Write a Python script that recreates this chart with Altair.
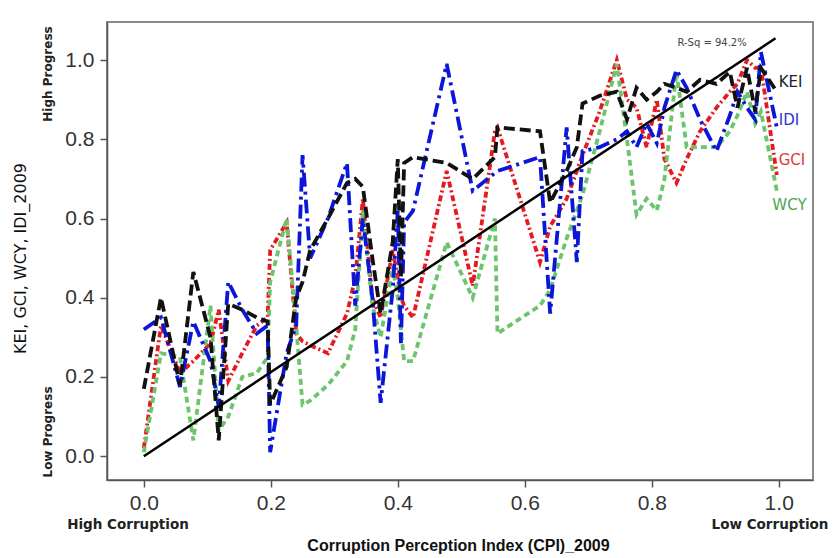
import altair as alt
import pandas as pd

# CPI 2009 (normalised) shared by all four progress indices
cpi = [0.000, 0.027, 0.057, 0.078, 0.105, 0.118, 0.133, 0.155, 0.178, 0.195,
       0.199, 0.225, 0.240, 0.250, 0.262, 0.290, 0.320, 0.333, 0.345, 0.360,
       0.373, 0.392, 0.400, 0.405, 0.410, 0.424, 0.477, 0.518, 0.553, 0.557,
       0.624, 0.640, 0.666, 0.682, 0.691, 0.718, 0.745, 0.761, 0.776, 0.792,
       0.808, 0.820, 0.839, 0.855, 0.876, 0.902, 0.923, 0.935, 0.950, 0.963,
       0.972, 0.997]

kei = [0.17, 0.40, 0.18, 0.465, 0.30, 0.04, 0.385, 0.37, 0.35, 0.34,
       0.13, 0.225, 0.40, 0.44, 0.52, 0.60, 0.69, 0.70, 0.68, 0.50,
       0.36, 0.54, 0.75, 0.45, 0.74, 0.755, 0.74, 0.70, 0.755, 0.83,
       0.82, 0.64, 0.72, 0.78, 0.89, 0.91, 0.92, 0.85, 0.93, 0.90,
       0.92, 0.94, 0.93, 0.92, 0.95, 0.94, 0.97, 0.88, 0.98, 0.87,
       0.98, 0.92]

idi = [0.32, 0.35, 0.175, 0.34, 0.24, 0.125, 0.44, 0.37, 0.31, 0.33,
       0.01, 0.26, 0.33, 0.76, 0.50, 0.60, 0.74, 0.38, 0.60, 0.40,
       0.135, 0.42, 0.62, 0.285, 0.59, 0.62, 0.99, 0.67, 0.715, 0.72,
       0.755, 0.36, 0.83, 0.49, 0.77, 0.78, 0.80, 0.82, 0.78, 0.84,
       0.79, 0.88, 0.975, 0.93, 0.85, 0.77, 0.86, 0.92, 0.88, 0.85,
       1.02, 0.83]

gci = [0.02, 0.33, 0.21, 0.24, 0.285, 0.37, 0.19, 0.26, 0.33, 0.35,
       0.52, 0.59, 0.31, 0.29, 0.28, 0.26, 0.36, 0.45, 0.65, 0.40,
       0.35, 0.52, 0.45, 0.40, 0.38, 0.35, 0.72, 0.43, 0.82, 0.83,
       0.49, 0.58, 0.65, 0.72, 0.76, 0.87, 1.00, 0.90, 0.88, 0.78,
       0.90, 0.75, 0.69, 0.75, 0.82, 0.88, 0.92, 0.94, 1.00, 0.98,
       0.98, 0.71]

wcy = [0.01, 0.26, 0.25, 0.04, 0.38, 0.065, 0.10, 0.20, 0.21, 0.25,
       0.44, 0.60, 0.33, 0.13, 0.14, 0.18, 0.24, 0.32, 0.62, 0.38,
       0.30, 0.48, 0.40, 0.32, 0.24, 0.24, 0.54, 0.40, 0.60, 0.31,
       0.38, 0.42, 0.55, 0.62, 0.66, 0.82, 0.99, 0.80, 0.61, 0.65,
       0.62, 0.70, 0.97, 0.78, 0.78, 0.78, 0.82, 0.86, 0.92, 0.84,
       0.87, 0.67]

series_names = ["KEI", "IDI", "GCI", "WCY"]
line_colors = ["#111111", "#0b16d9", "#e5191f", "#6cc46c"]
label_colors = ["#222222", "#2b35d0", "#e03a3a", "#4fa34f"]
dash_styles = [[11, 5], [14, 5, 3, 5], [6, 3, 2, 3], [6, 4]]

# end-of-line series labels (data units)
label_x = [1.0, 1.0, 1.0, 0.99]
label_y = [0.944, 0.848, 0.747, 0.634]

# fitted trend line
fit_x = [0.0, 0.995]
fit_y = [0.0, 1.055]
r_sq_text = "R-Sq = 94.2%"
r_sq_pos = [0.895, 1.043]

values = {"KEI": kei, "IDI": idi, "GCI": gci, "WCY": wcy}
rows = []
for i, x in enumerate(cpi):
    for name in series_names:
        rows.append({"idx": i, "cpi": x, "series": name, "value": values[name][i]})
df = pd.DataFrame(rows)

x_scale = alt.Scale(domain=[-0.058, 1.054], nice=False, zero=False)
y_scale = alt.Scale(domain=[-0.06, 1.096], nice=False, zero=False)

tick_font = "Liberation Sans Narrow, Liberation Sans, Arial"

x_axis = alt.Axis(
    values=[0, 0.2, 0.4, 0.6, 0.8, 1.0], format=".1f", grid=False,
    tickSize=7, tickWidth=1.5, tickColor="#555555",
    domainColor="#555555", domainWidth=1.5,
    labelFont=tick_font, labelFontSize=21, labelColor="#333333", labelPadding=5,
    title="Corruption Perception Index (CPI)_2009",
    titleFont="Liberation Sans, Arial", titleFontSize=16, titleFontWeight="bold",
    titleColor="#111111", titleX=351, titleY=65, titleBaseline="middle", titleAlign="center",
)
y_axis = alt.Axis(
    values=[0, 0.2, 0.4, 0.6, 0.8, 1.0], format=".1f", grid=False,
    tickSize=7, tickWidth=1.5, tickColor="#555555",
    domainColor="#555555", domainWidth=1.5,
    labelFont=tick_font, labelFontSize=21, labelColor="#333333", labelPadding=6,
    title="KEI, GCI, WCY, IDI_2009",
    titleFont="DejaVu Sans, Verdana", titleFontSize=16, titleFontWeight="normal",
    titleColor="#111111", titleX=-87, titleY=236, titleAngle=270,
    titleBaseline="middle", titleAlign="center",
)

layers = []
draw_order = ["GCI", "WCY", "IDI", "KEI"]
for name in draw_order:
    k = series_names.index(name)
    layers.append(
        alt.Chart(df).transform_filter(alt.datum.series == name)
        .mark_line(color=line_colors[k], strokeWidth=3.8, strokeDash=dash_styles[k],
                   strokeCap="butt", strokeJoin="miter")
        .encode(
            x=alt.X("cpi:Q", scale=x_scale, axis=x_axis),
            y=alt.Y("value:Q", scale=y_scale, axis=y_axis),
            order=alt.Order("idx:Q"),
        )
    )

fit_df = pd.DataFrame({"cpi": fit_x, "value": fit_y})
fit_line = alt.Chart(fit_df).mark_line(color="#000000", strokeWidth=2.5).encode(
    x=alt.X("cpi:Q", scale=x_scale, axis=x_axis),
    y=alt.Y("value:Q", scale=y_scale, axis=y_axis),
)

rsq = alt.Chart(pd.DataFrame({"cpi": [r_sq_pos[0]], "value": [r_sq_pos[1]], "t": [r_sq_text]})).mark_text(
    font="DejaVu Sans, Verdana", fontSize=10, color="#444444", align="center", baseline="middle"
).encode(
    x=alt.X("cpi:Q", scale=x_scale, axis=x_axis),
    y=alt.Y("value:Q", scale=y_scale, axis=y_axis),
    text="t:N",
)

lab_df = pd.DataFrame({"series": series_names, "cpi": label_x, "value": label_y})
series_labels = alt.Chart(lab_df).mark_text(
    font="DejaVu Sans, Verdana", fontSize=15, align="left", baseline="middle"
).encode(
    x=alt.X("cpi:Q", scale=x_scale, axis=x_axis),
    y=alt.Y("value:Q", scale=y_scale, axis=y_axis),
    text="series:N",
    color=alt.Color("series:N", scale=alt.Scale(domain=series_names, range=label_colors), legend=None),
)


def side_note(text, px, py, angle=0, size=12.5):
    return alt.Chart(pd.DataFrame({"t": [text]})).mark_text(
        font="DejaVu Sans, Verdana", fontSize=size, fontWeight="bold", color="#222222",
        align="center", baseline="middle", angle=angle,
    ).encode(text="t:N", x=alt.value(px), y=alt.value(py))


notes = [
    side_note("High Progress", -59, 52, 270, 12),
    side_note("Low Progress", -59, 410, 270, 12),
    side_note("High Corruption", 21, 503, 0, 13.5),
    side_note("Low Corruption", 663, 503, 0, 13.5),
]

chart = alt.layer(*layers, fit_line, rsq, series_labels, *notes).properties(
    width=706, height=458,
    padding={"left": 107, "top": 22, "right": 24, "bottom": 78},
    autosize=alt.AutoSizeParams(type="none"),
    background="white",
).configure_view(stroke="#8a8a8a", strokeWidth=2)

chart.save("out.html", embed_options={"renderer": "svg", "actions": False})
